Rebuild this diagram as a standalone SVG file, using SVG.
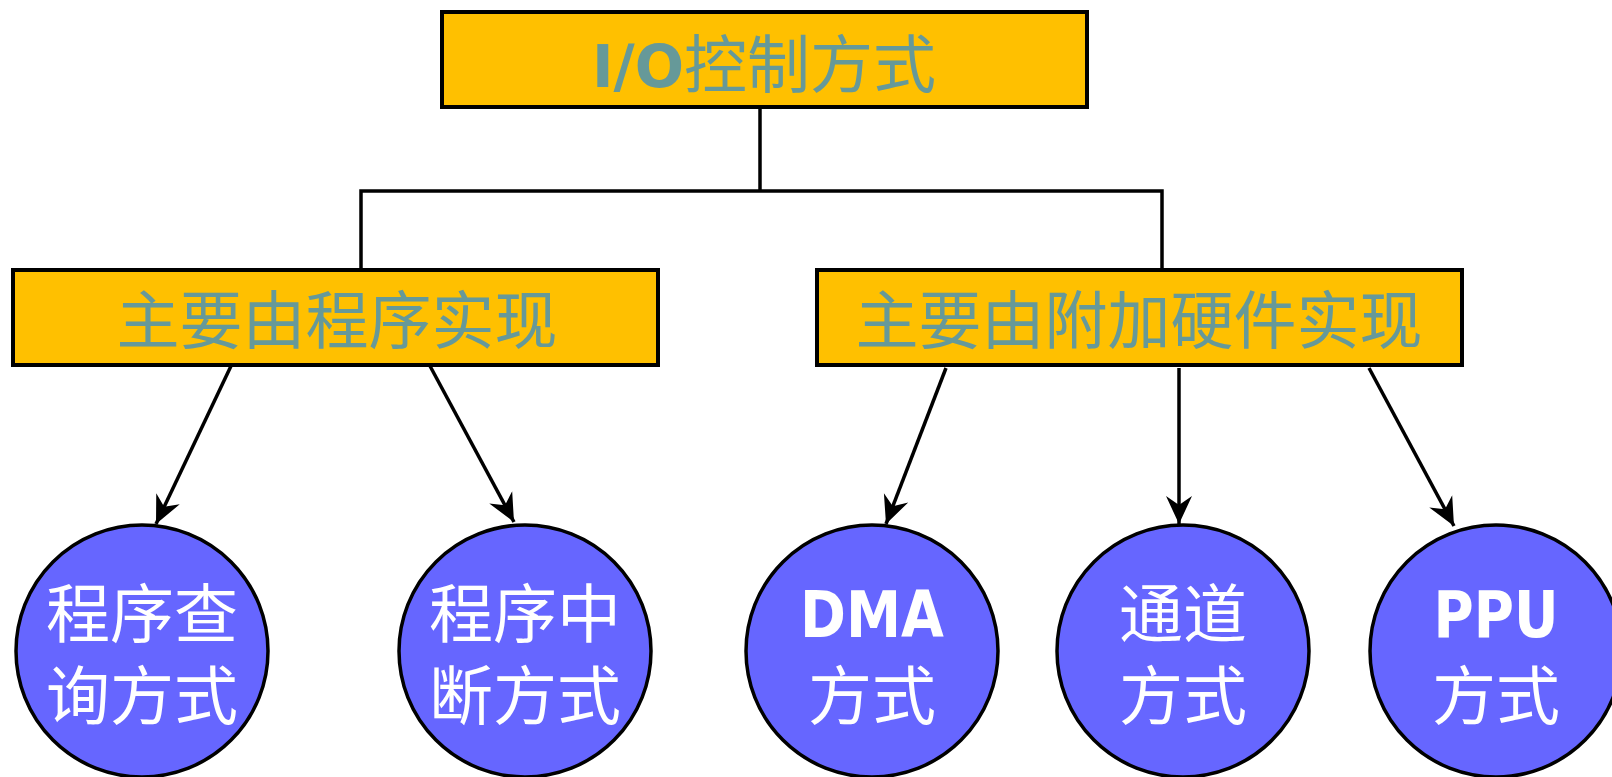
<svg xmlns="http://www.w3.org/2000/svg" width="1612" height="777" viewBox="0 0 1612 777">
<defs>
<marker id="arr" markerUnits="userSpaceOnUse" markerWidth="30" markerHeight="28" viewBox="0 0 30 28" refX="28" refY="14" orient="auto">
<path d="M0,1 L28,14 L0,27 L9,14 z" fill="#000"/>
</marker>
<style>
.box{fill:#FFC000;stroke:#000;stroke-width:4}
.circ{fill:#6666FF;stroke:#000;stroke-width:3.5}
.bt{font-family:"Noto Sans CJK SC","Noto Sans",sans-serif;font-size:63px;fill:#669999;text-anchor:middle}
.ct{font-family:"Noto Sans CJK SC","Noto Sans",sans-serif;font-size:64px;fill:#fff;text-anchor:middle}
.lat{font-family:"DejaVu Sans",Verdana,sans-serif;font-weight:bold}
.ln{stroke:#000;stroke-width:3.5;fill:none}
</style>
</defs>
<g id="connectors">
<polyline class="ln" points="760,108 760,191"/>
<polyline class="ln" points="361,269 361,191 1162,191 1162,269"/>
<line class="ln" x1="231" y1="366" x2="156" y2="524" marker-end="url(#arr)"/>
<line class="ln" x1="430" y1="366" x2="514" y2="522" marker-end="url(#arr)"/>
<line class="ln" x1="946" y1="368" x2="886" y2="524" marker-end="url(#arr)"/>
<line class="ln" x1="1179" y1="368" x2="1179" y2="524" marker-end="url(#arr)"/>
<line class="ln" x1="1369" y1="368" x2="1454" y2="526" marker-end="url(#arr)"/>
</g>
<g id="root">
<rect class="box" x="442" y="12" width="645" height="95"/>
<text class="bt" x="764" y="87" font-size="64"><tspan class="lat" font-size="58">I/O</tspan>控制方式</text>
</g>
<g id="software">
<rect class="box" x="13" y="270" width="645" height="95"/>
<text class="bt" x="337" y="343">主要由程序实现</text>
</g>
<g id="hardware">
<rect class="box" x="817" y="270" width="645" height="95"/>
<text class="bt" x="1139" y="343">主要由附加硬件实现</text>
</g>
<g id="polling">
<ellipse class="circ" cx="142" cy="651" rx="126" ry="126"/>
<text class="ct" x="142" y="637">程序查<tspan x="142" dy="82">询方式</tspan></text>
</g>
<g id="interrupt">
<ellipse class="circ" cx="525" cy="651" rx="126" ry="126"/>
<text class="ct" x="525" y="637">程序中<tspan x="525" dy="82">断方式</tspan></text>
</g>
<g id="dma">
<ellipse class="circ" cx="872" cy="651" rx="126" ry="126"/>
<text class="ct lat" x="872" y="637" font-size="62" textLength="144" lengthAdjust="spacingAndGlyphs">DMA</text>
<text class="ct" x="872" y="719">方式</text>
</g>
<g id="channel">
<ellipse class="circ" cx="1183" cy="651" rx="126" ry="126"/>
<text class="ct" x="1183" y="637">通道<tspan x="1183" dy="82">方式</tspan></text>
</g>
<g id="ppu">
<ellipse class="circ" cx="1496" cy="651" rx="126" ry="126"/>
<text class="ct lat" x="1496" y="637" font-size="62" textLength="125" lengthAdjust="spacingAndGlyphs">PPU</text>
<text class="ct" x="1496" y="719">方式</text>
</g>
</svg>
